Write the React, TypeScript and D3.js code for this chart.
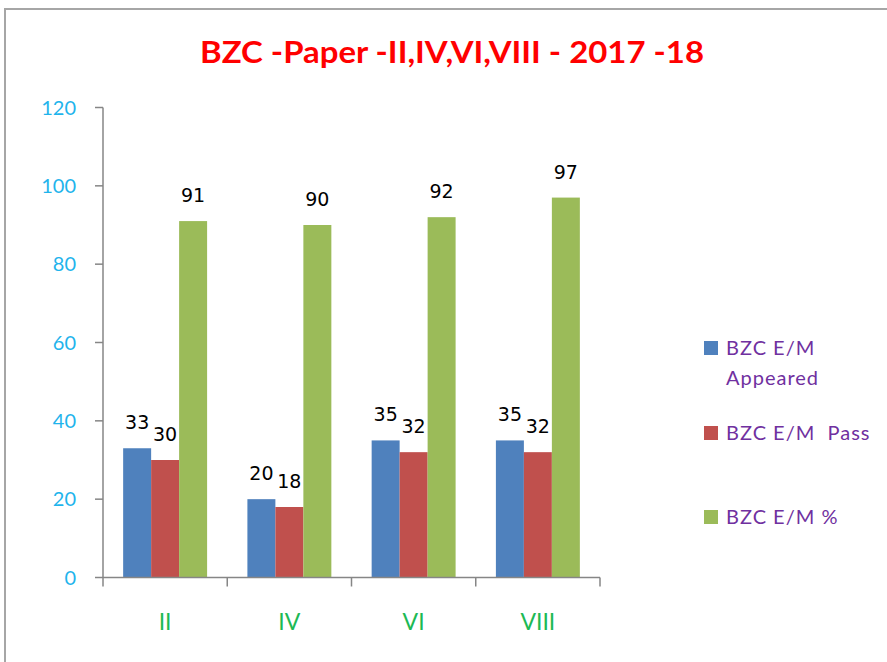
import * as d3 from 'd3'
import { useEffect } from 'react'

const categories = ['II', 'IV', 'VI', 'VIII']
const seriesNames = ['BZC E/M Appeared', 'BZC E/M Pass', 'BZC E/M %']
const appeared = [33, 20, 35, 35]
const passed = [30, 18, 32, 32]
const percent = [91, 90, 92, 97]
const yTicks = [0, 20, 40, 60, 80, 100, 120]
const colors = ['#4f81bd', '#c0504d', '#9bbb59']

export default function App() {
  useEffect(() => {
    document.body.style.margin = '0'
  }, [])

  const width = 887
  const height = 662
  const x0 = 103
  const x1 = 600
  const yBottom = 577.5
  const yTop = 107.5

  const xScale = d3.scaleBand().domain(categories).range([x0, x1]).padding(0)
  const inner = d3.scaleBand().domain(seriesNames).range([0, xScale.bandwidth()]).paddingInner(0).paddingOuter(0.72)
  const yScale = d3.scaleLinear().domain([0, 120]).range([yBottom, yTop])

  const rows = categories.map((c, i) => ({
    cat: c,
    vals: [appeared[i], passed[i], percent[i]],
  }))

  const axisColor = '#868686'
  const font = 'Lato, "Open Sans", sans-serif'

  const boundaries = [...categories.map(c => xScale(c)!), x1]

  const legendRows = [
    { lines: ['BZC E/M', 'Appeared'], y: 355 },
    { lines: ['BZC E/M  Pass'], y: 440 },
    { lines: ['BZC E/M %'], y: 524 },
  ]

  return (
    <svg width={width} height={height} style={{ display: 'block' }}>
      <rect x={0} y={0} width={width} height={height} fill="#fff" />
      <rect x={5} y={9} width={width + 20} height={height + 20} fill="none" stroke="#a6a6a6" strokeWidth={2} />
      <text x={452} y={63} textAnchor="middle" fill="#ff0000" fontFamily={font} fontWeight="bold"
        fontSize={31} textLength={504} lengthAdjust="spacingAndGlyphs">
        BZC -Paper -II,IV,VI,VIII - 2017 -18
      </text>

      {/* y axis */}
      <line x1={x0} x2={x0} y1={yTop} y2={yBottom} stroke={axisColor} strokeWidth={1.5} />
      {yTicks.map(t => (
        <g key={t}>
          <line x1={x0 - 8} x2={x0} y1={yScale(t)} y2={yScale(t)} stroke={axisColor} strokeWidth={1.5} />
          <text x={x0 - 27} y={yScale(t) + 7} textAnchor="end" fill="#1fb4ec" fontFamily={font} fontSize={20}>
            {t}
          </text>
        </g>
      ))}

      {/* bars */}
      {rows.map(r => (
        <g key={r.cat} transform={`translate(${xScale(r.cat)},0)`}>
          {r.vals.map((v, j) => (
            <g key={j}>
              <rect x={inner(seriesNames[j])} y={yScale(v)} width={inner.bandwidth()} height={yBottom - yScale(v)}
                fill={colors[j]} />
              <text x={inner(seriesNames[j])! + inner.bandwidth() / 2} y={yScale(v) - 19} textAnchor="middle"
                fill="#000" fontFamily='"DejaVu Sans", sans-serif' fontSize={19}>
                {v}
              </text>
            </g>
          ))}
        </g>
      ))}

      {/* x axis */}
      <line x1={x0} x2={x1} y1={yBottom} y2={yBottom} stroke={axisColor} strokeWidth={1.5} />
      {boundaries.map((b, i) => (
        <line key={i} x1={b} x2={b} y1={yBottom} y2={yBottom + 9} stroke={axisColor} strokeWidth={1.5} />
      ))}
      {categories.map(c => (
        <text key={c} x={xScale(c)! + xScale.bandwidth() / 2} y={630} textAnchor="middle" fill="#1db954"
          fontFamily={font} fontSize={23}>
          {c}
        </text>
      ))}

      {/* legend */}
      {legendRows.map((l, i) => (
        <g key={i}>
          <rect x={704} y={l.y - 14} width={14} height={14} fill={colors[i]} />
          {l.lines.map((s, k) => (
            <text key={k} x={726} y={l.y + k * 30} fill="#7030a0" fontFamily={font} fontSize={20}
              letterSpacing={1} style={{ whiteSpace: 'pre' }}>
              {s}
            </text>
          ))}
        </g>
      ))}
    </svg>
  )
}
